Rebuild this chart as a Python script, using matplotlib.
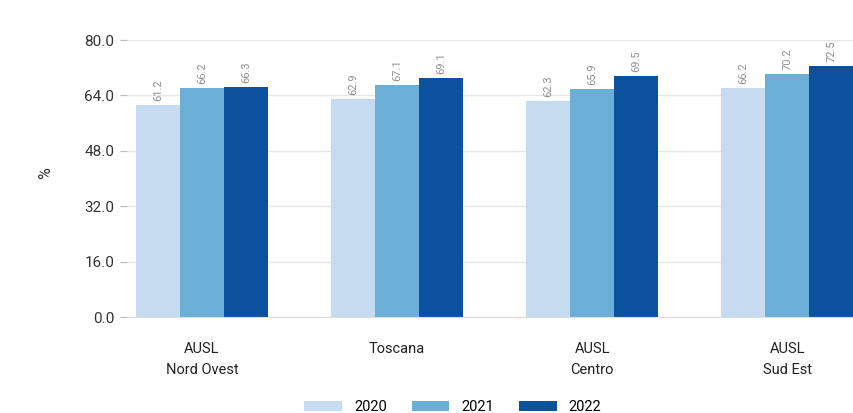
import numpy as np
import matplotlib
matplotlib.use('Agg')
import matplotlib.pyplot as plt
from matplotlib.patches import Patch

plt.rcParams['font.family'] = ['Roboto', 'DejaVu Sans']

# Data
categories = ['AUSL\nNord Ovest', 'Toscana', 'AUSL\nCentro', 'AUSL\nSud Est']
years = ['2020', '2021', '2022']
values_2020 = [61.2, 62.9, 62.3, 66.2]
values_2021 = [66.2, 67.1, 65.9, 70.2]
values_2022 = [66.3, 69.1, 69.5, 72.5]
colors = ['#c6dbef', '#6baed6', '#0b519c']
y_ticks = [0, 16, 32, 48, 64, 80]

fig = plt.figure(figsize=(8.54, 4.13), dpi=100)
ax = fig.add_axes([0.1487, 0.2324, 0.861, 0.6706])

x = np.arange(len(categories))
width = 0.225
series = [values_2020, values_2021, values_2022]

for i, vals in enumerate(series):
    pos = x + (i - 1) * width
    ax.bar(pos, vals, width, color=colors[i], zorder=2)
    for p, v in zip(pos, vals):
        ax.text(p, v + 1.2, '%.1f' % v, rotation=90, ha='center', va='bottom',
                fontsize=8, color='#909090', clip_on=False)

ax.set_xlim(-0.384, 3.384)
ax.set_ylim(0, 80)
ax.set_yticks(y_ticks)
ax.set_yticklabels(['%.1f' % t for t in y_ticks], fontsize=11, color='#333333')
ax.set_xticks(x)
ax.set_xticklabels(categories, fontsize=10.5, color='#222222', linespacing=1.6, va='top')
ax.tick_params(axis='x', length=0, pad=18)
ax.tick_params(axis='y', length=5, width=0.8, color='#bbbbbb', pad=4)

ax.grid(axis='y', color='#e6e6e6', linewidth=1, zorder=0)
for s in ['top', 'right', 'left']:
    ax.spines[s].set_visible(False)
ax.spines['bottom'].set_color('#dddddd')

ax.set_ylabel('%', fontsize=11.5, color='#333333')
ax.yaxis.set_label_coords(-0.1, 0.52)

handles = [Patch(facecolor=c, edgecolor='none') for c in colors]
fig.legend(handles, years, loc='lower center', bbox_to_anchor=(0.53, -0.035),
           ncol=3, frameon=False, fontsize=10.5, handlelength=2.6,
           handleheight=0.7, handletextpad=0.8, columnspacing=1.7)

plt.savefig('out.png', dpi=100)
